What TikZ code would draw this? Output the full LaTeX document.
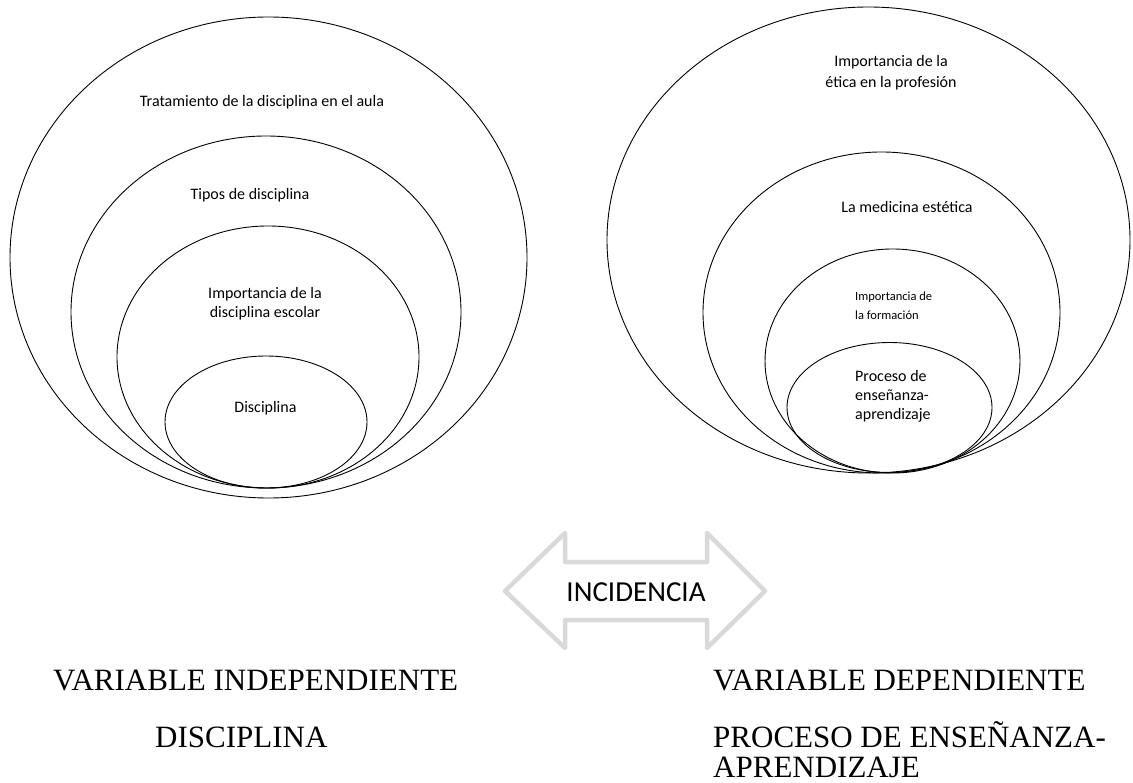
\documentclass[tikz,border=0pt]{standalone}
\usepackage{fontspec}
\setmainfont{Liberation Serif}
\newfontfamily\calibri{Carlito}
\usetikzlibrary{shapes.geometric}
\definecolor{arrowgray}{RGB}{217,217,217}

\begin{document}
\begin{tikzpicture}[x=1pt, y=-1pt,
        ring/.style={draw, ellipse, inner sep=0pt, line width=0.9pt},
        lbl/.style={font=\calibri\fontsize{16}{19.5}\selectfont, align=center, inner sep=0pt},
        var/.style={font=\fontsize{31}{34}\selectfont, inner sep=0pt, anchor=base west}]
    \useasboundingbox (0,0) rectangle (1133,783);

    \node[ring, minimum width=517pt, minimum height=481pt] (tratamiento) at (268.5,257.5) {};
    \node[ring, minimum width=390pt, minimum height=352pt] (tipos) at (266,312) {};
    \node[ring, minimum width=302pt, minimum height=262pt] (importancia) at (268,357) {};
    \node[ring, minimum width=202pt, minimum height=132pt] (disciplina) at (266,422) {};

    \node[lbl] (tratamientotxt) at (262,102) {Tratamiento de la disciplina en el aula};
    \node[lbl] (tipostxt) at (250,195) {Tipos de disciplina};
    \node[lbl] (importanciatxt) at (265,303.5) {Importancia de la\\disciplina escolar};
    \node[lbl] (disciplinatxt) at (265.5,408) {Disciplina};

    \node[ring, minimum width=523pt, minimum height=466pt] (etica) at (868.5,240) {};
    \node[ring, minimum width=357pt, minimum height=321pt] (medicina) at (881.5,312.5) {};
    \node[ring, minimum width=255pt, minimum height=224pt] (formacion) at (892.5,361) {};
    \node[ring, minimum width=205pt, minimum height=130pt] (proceso) at (889.5,407.5) {};

    \node[lbl, font=\calibri\fontsize{16}{21}\selectfont] (eticatxt) at (891,72.5) {Importancia de la\\ética en la profesión};
    \node[lbl] (medicinatxt) at (907,207) {La medicina estética};
    \node[lbl, font=\calibri\fontsize{12.5}{19}\selectfont, align=left, anchor=west] (formaciontxt) at (855,305.5) {Importancia de\\la formación};
    \node[lbl, font=\calibri\fontsize{16}{19}\selectfont, align=left, anchor=west] (procesotxt) at (855,396) {Proceso de\\enseñanza-\\aprendizaje};

    \draw[arrowgray, line width=4.5pt, line join=round] (505,591) -- (565,533) -- (565,562) -- (707,562) -- (707,533) -- (765,591) -- (707,648) -- (707,620) -- (565,620) -- (565,648) -- cycle;
    \node[font=\calibri\fontsize{29}{30}\selectfont, inner sep=0pt] (incidencia) at (636,592) {INCIDENCIA};

    \node[var] (indep) at (53,690) {VARIABLE INDEPENDIENTE};
    \node[var] (indepname) at (155,747) {DISCIPLINA};
    \node[var] (dep) at (713,690) {VARIABLE DEPENDIENTE};
    \node[var, align=left] (depname) at (713,747) {PROCESO DE ENSEÑANZA-};
    \node[var] (depname2) at (713,777) {APRENDIZAJE};
\end{tikzpicture}
\end{document}
